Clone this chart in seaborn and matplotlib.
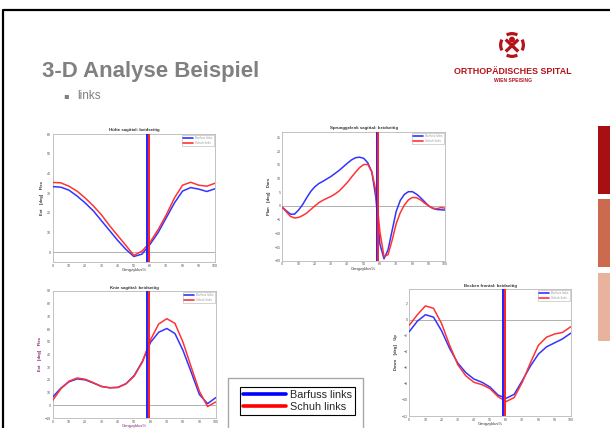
import matplotlib
matplotlib.use("Agg")
import matplotlib.pyplot as plt
from matplotlib.lines import Line2D
from matplotlib.patches import Rectangle, Arc, Circle
import pandas as pd
import seaborn as sns

W, H = 610, 428

# gait cycle positions (%)
PCT = [0, 5, 10, 15, 20, 25, 30, 35, 40, 45, 50, 55, 60, 65, 70, 75, 80, 85, 90, 95, 100]
PCT_ANKLE = [0, 2.5, 5, 7.5, 10, 12.5, 15, 17.5, 20, 22.5, 25, 27.5, 30, 32.5, 35, 37.5, 40, 42.5,
             45, 47.5, 50, 52.5, 55, 57.5, 60, 62.5, 65, 67.5, 70, 72.5, 75, 77.5, 80, 82.5, 85,
             87.5, 90, 92.5, 95, 97.5, 100]

HIP_BARFUSS = [33.3, 33.0, 31.5, 28.5, 25.0, 21.0, 16.0, 11.0, 6.0, 1.5, -2.2, -1.0, 4.0, 10.0, 17.5, 25.0, 31.0, 32.8, 32.0, 30.8, 32.2]
HIP_SCHUH = [35.4, 35.2, 33.5, 31.0, 27.5, 23.5, 19.0, 13.5, 8.5, 3.5, -1.6, 0.5, 5.0, 11.5, 19.0, 27.5, 34.0, 35.5, 34.0, 33.5, 35.0]

ANKLE_BARFUSS = [-0.5, -1.8, -3.0, -3.0, -1.5, 0.5, 3.0, 5.3, 7.0, 8.2, 9.0, 9.9, 10.8, 11.9, 13.0,
                 14.3, 15.6, 16.8, 17.6, 17.8, 17.4, 15.8, 12.5, 3.0, -14.0, -19.3, -16.0, -9.0,
                 -2.0, 2.0, 4.2, 5.2, 5.2, 4.3, 3.0, 1.5, 0.0, -0.9, -1.3, -1.4, -1.5]
ANKLE_SCHUH = [-0.5, -2.2, -3.8, -4.4, -4.2, -3.5, -2.6, -1.3, 0.0, 1.2, 2.1, 2.8, 3.5, 4.4, 5.5,
               7.0, 8.6, 10.5, 12.3, 14.0, 15.1, 15.2, 12.5, 5.5, -9.5, -18.5, -17.8, -12.5,
               -6.5, -2.5, 0.3, 2.2, 3.1, 3.0, 2.2, 1.0, 0.0, -0.8, -1.0, -0.6, -0.8]

KNEE_BARFUSS = [6.5, 13.5, 18.5, 20.8, 20.0, 17.5, 14.8, 13.8, 14.2, 17.0, 23.5, 34.5, 49.5, 57.5, 60.5, 56.5, 43.0, 26.0, 8.5, 1.3, 6.0]
KNEE_SCHUH = [3.9, 13.0, 19.0, 21.5, 20.5, 17.8, 14.8, 13.8, 14.0, 17.0, 23.0, 34.0, 51.5, 64.0, 68.2, 64.5, 49.5, 30.0, 11.0, -1.0, 2.6]

PELVIS_BARFUSS = [-1.5, -0.2, 0.6, 0.3, -1.4, -3.6, -5.4, -6.6, -7.4, -7.8, -8.4, -9.4, -9.8, -9.3, -7.6, -5.8, -4.3, -3.4, -2.9, -2.4, -1.7]
PELVIS_SCHUH = [-0.7, 0.6, 1.7, 1.4, -0.5, -3.2, -5.6, -7.0, -7.8, -8.1, -8.6, -9.6, -10.2, -9.7, -7.8, -5.4, -3.2, -2.2, -1.8, -1.6, -0.9]

TOE_OFF_BARFUSS = [58.0, 58.0, 58.0, 58.3]
TOE_OFF_SCHUH = [59.3, 59.0, 59.0, 59.3]

SERIES = ["Barfuss links", "Schuh links"]
TITLES = ["Hüfte sagittal: beidseitig", "Sprunggelenk sagittal: beidseitig",
          "Knie sagittal: beidseitig", "Becken frontal: beidseitig"]
YLABELS = ["Ext    [deg]    Flex", "Plan    [deg]    Dors", "Ext    [deg]    Flex", "Down    [deg]    Up"]
YLIMS = [(-5, 60), (-20, 27), (-10, 90), (-12, 3.8)]
YTICKS = [list(range(0, 61, 10)), list(range(-20, 26, 5)), list(range(-10, 91, 10)), list(range(-12, 3, 2))]
XTICKS = list(range(0, 101, 10))

BLUE = "#3333ff"
RED = "#ff3333"
GREY_TEXT = "#808080"
LOGO_RED = "#b3141c"


def box(x0, y0, x1, y1):
    return [x0 / W, 1 - y1 / H, (x1 - x0) / W, (y1 - y0) / H]


def gait_panel(fig, rect, i, pct, barfuss, schuh, label_color="#333333"):
    ax = fig.add_axes(rect)
    df = pd.DataFrame({"pct": list(pct) * 2, "deg": list(barfuss) + list(schuh),
                       "serie": [SERIES[0]] * len(pct) + [SERIES[1]] * len(pct)})
    ax.axhline(0, color="#b0b0b0", lw=0.7, zorder=1)
    sns.lineplot(data=df, x="pct", y="deg", hue="serie", palette=[BLUE, RED],
                 lw=1.1, ax=ax, zorder=3)
    ax.axvline(TOE_OFF_BARFUSS[i], color="#2020ff", lw=1.4, zorder=4)
    ax.axvline(TOE_OFF_SCHUH[i], color="#ff2020", lw=1.4, zorder=4)
    ax.set_xlim(0, 100)
    ax.set_ylim(*YLIMS[i])
    ax.set_xticks(XTICKS)
    ax.set_yticks(YTICKS[i])
    ax.tick_params(direction="in", length=1.5, width=0.4, pad=1.2, labelsize=2.6,
                   colors="#9a9a9a", labelcolor="#555555")
    for sp in ax.spines.values():
        sp.set_color("#b8b8b8")
        sp.set_linewidth(0.6)
    ax.set_title(TITLES[i], fontsize=3.2, fontweight="bold", pad=1.8, color="#333333")
    ax.set_xlabel("Gangzyklus%", fontsize=3, labelpad=0.4, color=label_color)
    ax.set_ylabel(YLABELS[i], fontsize=3, fontweight="bold", labelpad=2.2, color=label_color)
    leg = ax.legend(loc="upper right", fontsize=2.2, frameon=True, fancybox=False,
                    edgecolor="#a0a0a0", handlelength=3.2, borderpad=0.4,
                    labelspacing=0.25, borderaxespad=0.35, labelcolor="#9a9a9a")
    leg.get_frame().set_linewidth(0.4)
    for ln in leg.get_lines():
        ln.set_linewidth(1.2)
    return ax


sns.set_style("white")
plt.rcParams["font.family"] = ["Liberation Sans", "DejaVu Sans"]

fig = plt.figure(figsize=(W / 100, H / 100), dpi=100)
fig.patch.set_facecolor("white")

# slide frame
fig.add_artist(Line2D([3 / W, 3 / W, 1], [0, 1 - 10 / H, 1 - 10 / H], transform=fig.transFigure,
                      color="black", lw=1.6))

# title + bullet
fig.text(42 / W, 1 - 72 / H, "3-D Analyse Beispiel", fontsize=16, fontweight="bold",
         color=GREY_TEXT, ha="left", va="center")
fig.text(63 / W, 1 - 96 / H, "▪", fontsize=6, color=GREY_TEXT, ha="left", va="center",
         family=["DejaVu Sans"])
fig.text(77 / W, 1 - 96 / H, "links", fontsize=8.5, color=GREY_TEXT, ha="left", va="center")

# hospital logo
lax = fig.add_axes(box(499, 32, 525, 58))
lax.set_xlim(-1, 1)
lax.set_ylim(-1, 1)
lax.set_aspect("equal")
lax.axis("off")
for c in (0, 90, 180, 270):
    lax.add_patch(Arc((0, 0), 1.75, 1.75, theta1=c - 28, theta2=c + 28, color=LOGO_RED, lw=2.3))
lax.plot([-0.48, 0.48], [0.42, -0.5], color=LOGO_RED, lw=2.4, solid_capstyle="butt")
lax.plot([0.48, -0.48], [0.42, -0.5], color=LOGO_RED, lw=2.4, solid_capstyle="butt")
lax.add_patch(Circle((0, 0.42), 0.17, color=LOGO_RED))
fig.text(513 / W, 1 - 72 / H, "ORTHOPÄDISCHES SPITAL", fontsize=6.4, fontweight="bold",
         color=LOGO_RED, ha="center", va="center")
fig.text(513 / W, 1 - 80.5 / H, "WIEN SPEISING", fontsize=3.6, fontweight="bold",
         color=LOGO_RED, ha="center", va="center")

# right side colour tabs
for (y0, y1), col in zip([(126, 194), (199, 267), (273, 341)], ["#a80f12", "#cc6a50", "#e8b39d"]):
    fig.add_artist(Rectangle((598 / W, 1 - y1 / H), 12 / W, (y1 - y0) / H,
                             transform=fig.transFigure, color=col, lw=0))

# gait panels
gait_panel(fig, box(52.7, 134, 215, 262), 0, PCT, HIP_BARFUSS, HIP_SCHUH)
gait_panel(fig, box(282.3, 132, 445, 260.7), 1, PCT_ANKLE, ANKLE_BARFUSS, ANKLE_SCHUH)
gait_panel(fig, box(52.7, 291, 215.7, 418), 2, PCT, KNEE_BARFUSS, KNEE_SCHUH, label_color="#7d1f6e")
gait_panel(fig, box(409.3, 289, 570.7, 416), 3, PCT, PELVIS_BARFUSS, PELVIS_SCHUH)

# shared legend at the bottom
fig.add_artist(Line2D([228 / W, 228 / W, 363 / W, 363 / W], [0, 1 - 378 / H, 1 - 378 / H, 0],
                      transform=fig.transFigure, color="#a8a8a8", lw=1.0))
handles = [Line2D([], [], color="#0000ff", lw=2.6), Line2D([], [], color="#ff0000", lw=2.6)]
big = fig.legend(handles=handles, labels=SERIES, loc="upper left",
                 bbox_to_anchor=(240 / W, 1 - 387 / H), frameon=True, fancybox=False,
                 edgecolor="black", framealpha=1, fontsize=7.8, handlelength=3.9,
                 handletextpad=0.37, borderpad=0.3, labelspacing=0.12, borderaxespad=0)
big.get_frame().set_linewidth(0.8)

fig.savefig("out.png", dpi=100)
